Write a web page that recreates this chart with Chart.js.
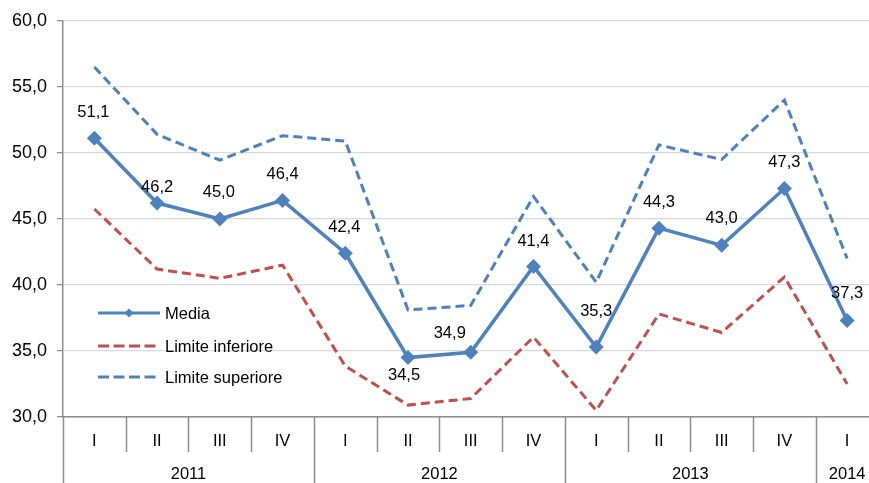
<!DOCTYPE html>
<html>
<head>
<meta charset="utf-8">
<script src="https://cdn.jsdelivr.net/npm/chart.js@4"></script>
<style>
html,body{margin:0;padding:0;background:#fff;overflow:hidden;}
#wrap{width:886px;height:483px;position:relative;}
canvas{display:block;width:886px;height:483px;}
</style>
</head>
<body>
<div id="wrap"><canvas id="c" width="886" height="483"></canvas></div>
<script>
const quarters = ["I","II","III","IV","I","II","III","IV","I","II","III","IV","I"];
const years = ["2011","2012","2013","2014"];
const quartersPerYear = [4,4,4,1];
const media = [51.1,46.2,45.0,46.4,42.4,34.5,34.9,41.4,35.3,44.3,43.0,47.3,37.3];
const limiteInferiore = [45.75,41.2,40.5,41.5,33.85,30.9,31.4,36.05,30.5,37.8,36.4,40.6,32.5];
const limiteSuperiore = [56.5,51.4,49.45,51.3,50.9,38.1,38.45,46.7,40.2,50.6,49.5,54.0,42.0];
const seriesNames = ["Media","Limite inferiore","Limite superiore"];
const yTicks = {min:30, max:60, step:5};

const BLUE = "#4f81bd", RED = "#c0504d", AXIS = "#8c8c8c", GRID = "#d9d9d9";
const FONT = "'Liberation Sans', Arial, sans-serif";
const fmt = v => v.toFixed(1).replace('.', ',');

// label offsets (style) relative to point, per media point
const labelOffsets = [[-1,-26],[0,-16],[-1,-26],[0,-26],[-1,-26],[-4,18],[-21,-19],[0,-25],[0,-36],[0,-26],[0,-27],[0,-26],[0,-27]];

const xAxisPlugin = {
  id:'xAxisPlugin',
  afterDraw(chart){
    const ctx = chart.ctx, a = chart.chartArea, xs = chart.scales.x;
    const n = quarters.length, w = (a.right - a.left)/n;
    ctx.save();
    ctx.strokeStyle = AXIS; ctx.lineWidth = 1.5;
    const yearBounds = new Set([0]);
    let acc = 0; quartersPerYear.forEach(q=>{acc+=q; yearBounds.add(acc);});
    for(let i=0;i<=n;i++){
      const x = Math.round(a.left + i*w)+0.5;
      ctx.beginPath(); ctx.moveTo(x, a.bottom); ctx.lineTo(x, yearBounds.has(i)?483:452); ctx.stroke();
    }
    ctx.fillStyle = "#000"; ctx.font = "16.5px "+FONT; ctx.textAlign='center'; ctx.textBaseline='middle';
    quarters.forEach((q,i)=>{ ctx.fillText(q, xs.getPixelForValue(i), 441); });
    let start = 0;
    years.forEach((y,k)=>{
      const cnt = quartersPerYear[k];
      const cx = a.left + (start + cnt/2)*w;
      ctx.fillText(y, cx, 474);
      start += cnt;
    });
    ctx.restore();
  }
};

const labelPlugin = {
  id:'labelPlugin',
  afterDatasetsDraw(chart){
    const ctx = chart.ctx, meta = chart.getDatasetMeta(0);
    ctx.save();
    ctx.fillStyle="#000"; ctx.font="16.5px "+FONT; ctx.textAlign='center'; ctx.textBaseline='middle';
    meta.data.forEach((p,i)=>{
      const o = labelOffsets[i];
      ctx.fillText(fmt(media[i]), p.x+o[0], p.y+o[1]);
    });
    ctx.restore();
  }
};

const legendPlugin = {
  id:'legendPlugin',
  afterDraw(chart){
    const ctx = chart.ctx;
    const items = [
      {y:313, color:BLUE, dash:[], marker:true},
      {y:346, color:RED, dash:[11,4.5]},
      {y:377, color:BLUE, dash:[11,4.5]}
    ];
    ctx.save();
    items.forEach((it,k)=>{
      ctx.strokeStyle = it.color; ctx.lineWidth = 3.2; ctx.setLineDash(it.dash);
      ctx.beginPath(); ctx.moveTo(98, it.y); ctx.lineTo(160, it.y); ctx.stroke();
      ctx.setLineDash([]);
      if(it.marker){
        ctx.fillStyle = it.color; ctx.beginPath();
        ctx.moveTo(129-4.5,it.y); ctx.lineTo(129,it.y-4.5); ctx.lineTo(129+4.5,it.y); ctx.lineTo(129,it.y+4.5); ctx.closePath(); ctx.fill();
      }
      ctx.fillStyle="#000"; ctx.font="16.5px "+FONT; ctx.textAlign='left'; ctx.textBaseline='middle';
      ctx.fillText(seriesNames[k], 165, it.y+1);
    });
    ctx.restore();
  }
};

new Chart(document.getElementById('c'), {
  type:'line',
  data:{
    labels: quarters.map((q,i)=>q+"_"+i),
    datasets:[
      {label:seriesNames[0], data:media, borderColor:BLUE, backgroundColor:BLUE, borderWidth:3.5,
       pointStyle:'rectRot', pointRadius:7.5, pointBorderWidth:0, pointBackgroundColor:BLUE, tension:0},
      {label:seriesNames[1], data:limiteInferiore, borderColor:RED, borderWidth:3, borderDash:[9,5], pointRadius:0, tension:0},
      {label:seriesNames[2], data:limiteSuperiore, borderColor:BLUE, borderWidth:3, borderDash:[9,5], pointRadius:0, tension:0}
    ]
  },
  options:{
    responsive:false, animation:false, devicePixelRatio:1,
    layout:{padding:{top:19,right:0,bottom:0,left:0}},
    plugins:{legend:{display:false}, tooltip:{enabled:false}},
    scales:{
      x:{type:'category', offset:true, grid:{display:false}, border:{display:true,color:AXIS,width:1.5},
         ticks:{display:false}, afterFit:s=>{s.height=66;}},
      y:{min:yTicks.min, max:yTicks.max,
         ticks:{stepSize:yTicks.step, color:"#000", font:{family:FONT,size:18}, padding:10, callback:v=>fmt(v)},
         grid:{color:GRID, lineWidth:1.2, tickColor:AXIS, tickLength:6},
         border:{color:AXIS,width:1.5},
         afterFit:s=>{s.width=63;}}
    }
  },
  plugins:[xAxisPlugin,labelPlugin,legendPlugin]
});
</script>
</body>
</html>
